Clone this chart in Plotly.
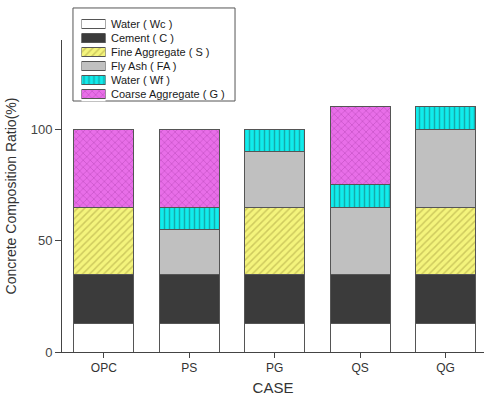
import plotly.graph_objects as go

cases = ["OPC", "PS", "PG", "QS", "QG"]

# Composition of each mix (% of total), stacked bottom to top
water_wc = [13, 13, 13, 13, 13]
cement = [22, 22, 22, 22, 22]
fine_agg = [30, None, 30, None, 30]
fly_ash = [None, 20, 25, 30, 35]
water_wf = [None, 10, 10, 10, 10]
coarse_agg = [35, 35, None, 35, None]

series = [
    ("Water ( Wc )", water_wc, "#ffffff", "", "#555555"),
    ("Cement ( C )", cement, "#3b3b3b", "", "#3b3b3b"),
    ("Fine Aggregate ( S )", fine_agg, "#f4f47c", "/", "#a8a040"),
    ("Fly Ash ( FA )", fly_ash, "#c0c0c0", "", "#c0c0c0"),
    ("Water ( Wf )", water_wf, "#10ecec", "|", "#1a6a6a"),
    ("Coarse Aggregate ( G )", coarse_agg, "#e86ee8", "x", "#b040b0"),
]

FONT = "Liberation Sans, Arial, sans-serif"


def bar_marker(fill, shape, fg):
    return dict(
        color=fill,
        line=dict(color="#555555", width=1),
        pattern=dict(shape=shape, fgcolor=fg, bgcolor=fill,
                     size=5, solidity=0.3, fillmode="overlay"),
    )


fig = go.Figure()
for name, vals, fill, shape, fg in series:
    fig.add_trace(go.Bar(
        x=cases, y=vals, name=name, width=0.7,
        marker=bar_marker(fill, shape, fg),
        showlegend=False,
    ))

# Compact boxed key: patterned swatches on a small inset axis, labels as annotations
annotations = []
for i, (name, vals, fill, shape, fg) in enumerate(series):
    fig.add_trace(go.Bar(
        x=[1], y=[i], base=0, orientation="h", width=0.64,
        marker=bar_marker(fill, shape, fg),
        xaxis="x2", yaxis="y2", showlegend=False, hoverinfo="skip",
    ))
    annotations.append(dict(
        text=name, xref="paper", yref="y2", x=0.112, y=i,
        xanchor="left", yanchor="middle", showarrow=False,
        font=dict(family=FONT, size=11, color="#1a1a1a"),
    ))

axis_font = dict(family=FONT, size=12, color="#333333")

fig.update_layout(
    barmode="stack",
    width=485, height=402,
    margin=dict(l=62, r=1, t=5, b=50),
    paper_bgcolor="white", plot_bgcolor="white",
    font=axis_font,
    showlegend=False,
    annotations=annotations,
    shapes=[dict(
        type="rect", xref="paper", yref="paper",
        x0=0.026, x1=0.41, y0=0.7233, y1=0.9914,
        line=dict(color="#555555", width=1), fillcolor="white", layer="below",
    )],
    xaxis=dict(
        range=[-0.49, 4.45],
        showline=True, linecolor="#444444", linewidth=1,
        ticks="outside", ticklen=5, tickcolor="#444444",
        tickfont=axis_font,
        title=dict(text="CASE", font=dict(family=FONT, size=15, color="#333333"),
                   standoff=8),
        showgrid=False,
    ),
    yaxis=dict(
        domain=[0, 0.8991],
        range=[0, 140],
        tickvals=[0, 50, 100],
        showline=True, linecolor="#444444", linewidth=1,
        ticks="outside", ticklen=6, tickcolor="#444444",
        tickfont=dict(family=FONT, size=13, color="#444444"),
        title=dict(text="Concrete Composition Ratio(%)",
                   font=dict(family=FONT, size=14, color="#333333"),
                   standoff=10),
        showgrid=False, zeroline=False,
    ),
    xaxis2=dict(
        domain=[0.0462, 0.1031], range=[0, 1], anchor="y2",
        visible=False, fixedrange=True,
    ),
    yaxis2=dict(
        domain=[0.7225, 0.9654], range=[5.5, -0.5], anchor="x2",
        visible=False, fixedrange=True,
    ),
)

fig.write_html("out.html")
